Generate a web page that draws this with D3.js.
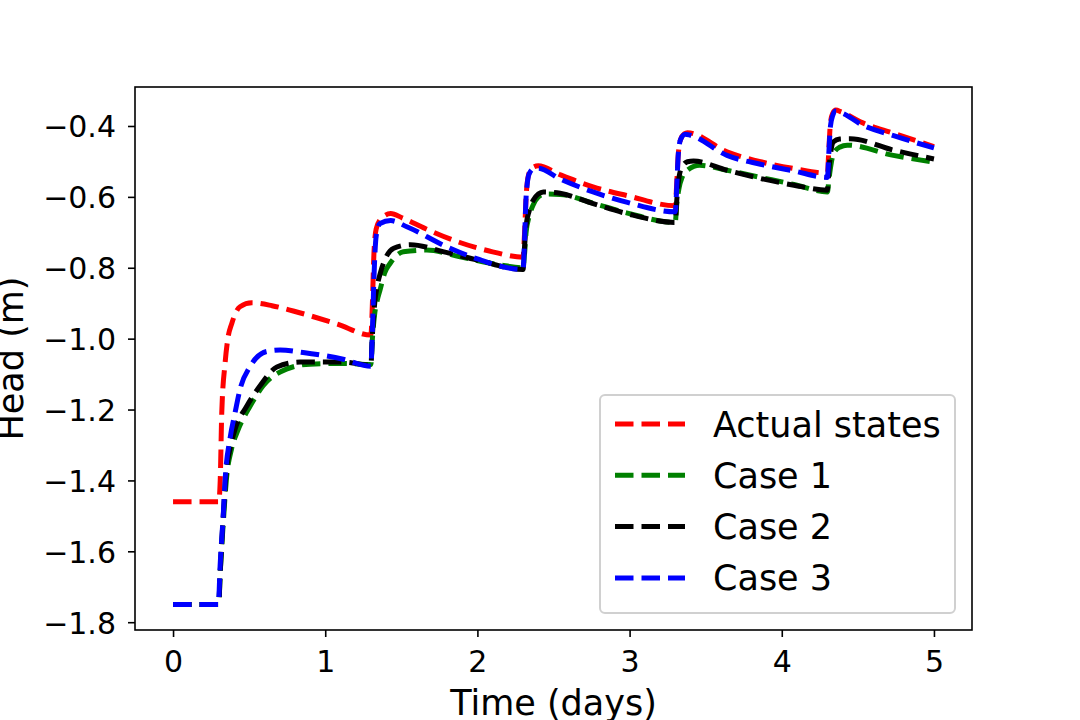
<!DOCTYPE html>
<html>
<head>
<meta charset="utf-8">
<script src="https://cdn.jsdelivr.net/npm/d3@7"></script>
<style>
  body { margin: 0; background: #fff; }
  text { font-family: "DejaVu Sans", sans-serif; fill: #000; }
</style>
</head>
<body>
<svg id="chart" width="1080" height="720"></svg>
<script>
// [time (days), head (m)]
var actualStates = [
  [0, -1.46], [0.30, -1.46], [0.31, -1.40], [0.32, -1.21], [0.342, -1.069], [0.36, -1.0],
  [0.386, -0.957], [0.44, -0.91], [0.518, -0.899], [0.65, -0.907], [0.79, -0.922],
  [1.08, -0.959], [1.30, -0.99],
  [1.31, -0.90], [1.32, -0.76], [1.335, -0.69], [1.37, -0.66], [1.43, -0.647],
  [1.51, -0.66], [1.66, -0.69], [1.88, -0.728], [2.1, -0.755], [2.30, -0.77],
  [2.31, -0.70], [2.32, -0.60], [2.335, -0.54], [2.36, -0.518], [2.40, -0.512],
  [2.54, -0.537], [2.76, -0.572], [2.98, -0.596], [3.30, -0.625],
  [3.31, -0.56], [3.32, -0.48], [3.335, -0.438], [3.36, -0.422], [3.38, -0.419],
  [3.64, -0.473], [3.86, -0.501], [4.08, -0.52], [4.30, -0.533],
  [4.31, -0.46], [4.32, -0.39], [4.335, -0.364], [4.355, -0.355], [4.39, -0.36],
  [4.52, -0.389], [4.74, -0.421], [5.0, -0.458]
];
var case1 = [
  [0, -1.75], [0.30, -1.75], [0.31, -1.66], [0.33, -1.52], [0.35, -1.40], [0.385, -1.31],
  [0.42, -1.265], [0.507, -1.19], [0.592, -1.133], [0.745, -1.086], [0.9, -1.072],
  [1.12, -1.07], [1.30, -1.073],
  [1.31, -1.0], [1.325, -0.93], [1.34, -0.895], [1.36, -0.863], [1.39, -0.815],
  [1.426, -0.788], [1.513, -0.755], [1.667, -0.75], [1.886, -0.769], [2.15, -0.792], [2.30, -0.80],
  [2.31, -0.76], [2.32, -0.70], [2.34, -0.655], [2.367, -0.622], [2.40, -0.600],
  [2.44, -0.592], [2.543, -0.593], [2.761, -0.618], [2.98, -0.645], [3.30, -0.672],
  [3.31, -0.62], [3.325, -0.575], [3.345, -0.545], [3.38, -0.525], [3.46, -0.511],
  [3.64, -0.525], [3.86, -0.545], [4.08, -0.565], [4.30, -0.586],
  [4.31, -0.55], [4.325, -0.505], [4.34, -0.478], [4.38, -0.46], [4.43, -0.454],
  [4.733, -0.483], [5.0, -0.502]
];
var case2 = [
  [0, -1.75], [0.30, -1.75], [0.31, -1.66], [0.33, -1.50], [0.345, -1.40], [0.38, -1.30],
  [0.408, -1.255], [0.485, -1.19], [0.572, -1.133], [0.682, -1.08], [0.836, -1.066],
  [1.12, -1.066], [1.30, -1.075],
  [1.31, -0.99], [1.325, -0.90], [1.34, -0.855], [1.362, -0.815], [1.40, -0.77],
  [1.45, -0.745], [1.56, -0.735], [1.78, -0.755], [2.0, -0.778], [2.30, -0.805],
  [2.31, -0.74], [2.32, -0.68], [2.34, -0.64], [2.367, -0.609], [2.40, -0.592],
  [2.433, -0.586], [2.543, -0.59], [2.761, -0.619], [2.98, -0.647], [3.30, -0.672],
  [3.31, -0.61], [3.32, -0.56], [3.34, -0.52], [3.38, -0.501], [3.42, -0.499],
  [3.64, -0.525], [3.86, -0.548], [4.08, -0.567], [4.30, -0.581],
  [4.31, -0.52], [4.32, -0.48], [4.339, -0.445], [4.38, -0.437], [4.45, -0.436],
  [4.733, -0.468], [5.0, -0.493]
];
var case3 = [
  [0, -1.75], [0.298, -1.75], [0.309, -1.643], [0.331, -1.49], [0.342, -1.40], [0.375, -1.28],
  [0.408, -1.208], [0.44, -1.143], [0.507, -1.078], [0.616, -1.036], [0.704, -1.032],
  [0.855, -1.039], [1.118, -1.058], [1.30, -1.078],
  [1.31, -0.98], [1.32, -0.83], [1.335, -0.71], [1.36, -0.675], [1.43, -0.667],
  [1.54, -0.685], [1.78, -0.737], [2.0, -0.775], [2.30, -0.805],
  [2.31, -0.72], [2.32, -0.60], [2.34, -0.535], [2.37, -0.52], [2.40, -0.519],
  [2.54, -0.549], [2.76, -0.586], [2.98, -0.615], [3.30, -0.642],
  [3.31, -0.57], [3.32, -0.48], [3.335, -0.438], [3.365, -0.423], [3.40, -0.426],
  [3.64, -0.483], [3.86, -0.508], [4.08, -0.527], [4.30, -0.545],
  [4.31, -0.47], [4.32, -0.40], [4.335, -0.37], [4.355, -0.358], [4.40, -0.364],
  [4.52, -0.395], [4.74, -0.428], [5.0, -0.462]
];

var seriesNames = ['Actual states', 'Case 1', 'Case 2', 'Case 3'];
var seriesColors = ['#ff0000', '#008000', '#000000', '#0000ff'];
var xTicks = [0, 1, 2, 3, 4, 5];
var yTicks = [-1.8, -1.6, -1.4, -1.2, -1.0, -0.8, -0.6, -0.4];

var box = { left: 135, right: 972, top: 87, bottom: 630 };
var dash = '18.5,8';

var svg = d3.select('#chart');

var x = d3.scaleLinear().domain([-0.25, 5.25]).range([box.left, box.right]);
var y = d3.scaleLinear().domain([-1.822, -0.290]).range([box.bottom, box.top]);

var fmtY = function(d) { return d3.format('.1f')(d).replace('-', '\u2212'); };

// lines
var line = d3.line()
  .x(function(d) { return x(d[0]); })
  .y(function(d) { return y(d[1]); })
  .curve(d3.curveMonotoneX);

var allSeries = [actualStates, case1, case2, case3];
allSeries.forEach(function(s, i) {
  svg.append('path')
    .datum(s)
    .attr('d', line)
    .attr('fill', 'none')
    .attr('stroke', seriesColors[i])
    .attr('stroke-width', 5)
    .attr('stroke-dasharray', dash)
    .attr('stroke-linejoin', 'round');
});

// axes
var xAxis = d3.axisBottom(x).tickValues(xTicks).tickSize(7).tickPadding(0).tickFormat(d3.format('d'));
var yAxis = d3.axisLeft(y).tickValues(yTicks).tickSize(7).tickPadding(0).tickFormat(fmtY);

var gx = svg.append('g').attr('transform', 'translate(0,' + box.bottom + ')').call(xAxis);
var gy = svg.append('g').attr('transform', 'translate(' + box.left + ',0)').call(yAxis);

[gx, gy].forEach(function(g) {
  g.select('.domain').remove();
  g.selectAll('.tick line').attr('stroke', '#000').attr('stroke-width', 1.6);
  g.selectAll('.tick text').attr('font-family', '"DejaVu Sans", sans-serif').attr('font-size', 30).attr('fill', '#000');
});
gx.selectAll('.tick text').attr('dy', null).attr('y', 42);
gy.selectAll('.tick text').attr('dy', null).attr('x', -19).attr('y', 11);

// frame
svg.append('rect')
  .attr('x', box.left).attr('y', box.top)
  .attr('width', box.right - box.left).attr('height', box.bottom - box.top)
  .attr('fill', 'none').attr('stroke', '#000').attr('stroke-width', 1.6);

// axis labels
svg.append('text')
  .attr('x', (box.left + box.right) / 2).attr('y', 715)
  .attr('text-anchor', 'middle').attr('font-size', 35)
  .text('Time (days)');

svg.append('text')
  .attr('transform', 'translate(23,' + (box.top + box.bottom) / 2 + ') rotate(-90)')
  .attr('text-anchor', 'middle').attr('font-size', 35)
  .text('Head (m)');

// legend
var legend = svg.append('g');
legend.append('rect')
  .attr('x', 600).attr('y', 395).attr('width', 355).attr('height', 218)
  .attr('rx', 5).attr('ry', 5)
  .attr('fill', '#fff').attr('fill-opacity', 0.8)
  .attr('stroke', '#d0d0d0').attr('stroke-width', 2);

seriesNames.forEach(function(name, i) {
  var ry = 424 + i * 51.3;
  legend.append('line')
    .attr('x1', 615).attr('x2', 685).attr('y1', ry).attr('y2', ry)
    .attr('stroke', seriesColors[i]).attr('stroke-width', 5)
    .attr('stroke-dasharray', dash);
  legend.append('text')
    .attr('x', 713).attr('y', ry + 12.5)
    .attr('font-size', 35)
    .text(name);
});
</script>
</body>
</html>
